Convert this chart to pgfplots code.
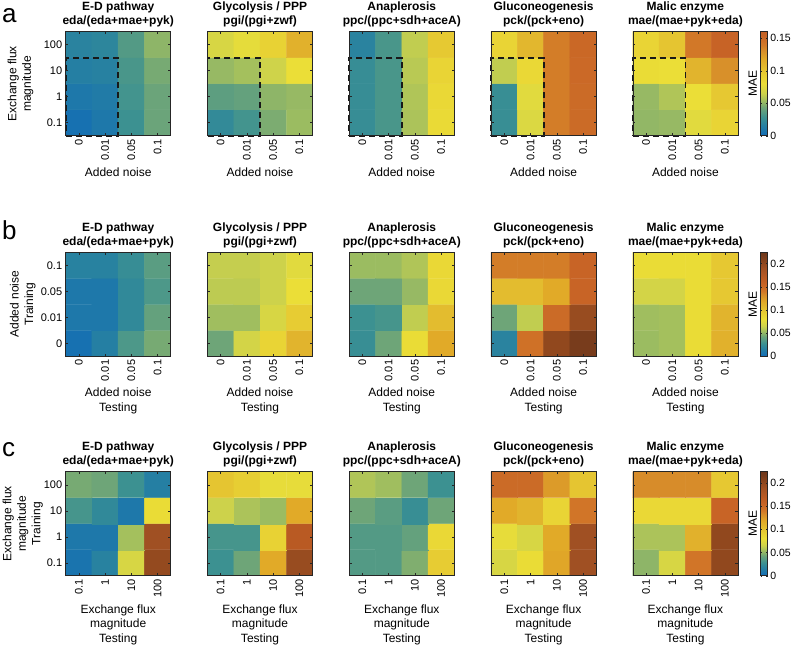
\documentclass[border=0pt]{standalone}
\usepackage{pgfplots}
\pgfplotsset{compat=1.18}
\usepackage{fontspec}
\setmainfont{Liberation Sans}
\pgfplotsset{
 colormap={mapA}{rgb255(0pt)=(18,108,182) rgb255(10pt)=(30,120,170) rgb255(17pt)=(40,130,160) rgb255(28pt)=(60,145,145) rgb255(43pt)=(110,165,120) rgb255(54pt)=(160,190,95) rgb255(65pt)=(205,210,75) rgb255(80pt)=(235,222,55) rgb255(98pt)=(230,200,50) rgb255(110pt)=(225,180,45) rgb255(118pt)=(225,170,40) rgb255(132pt)=(215,140,42) rgb255(140pt)=(210,120,40) rgb255(155pt)=(200,100,38) rgb255(160pt)=(195,96,37)},
 colormap={mapB}{rgb255(0pt)=(18,108,182) rgb255(10pt)=(30,120,170) rgb255(17pt)=(40,130,160) rgb255(28pt)=(60,145,145) rgb255(43pt)=(110,165,120) rgb255(54pt)=(160,190,95) rgb255(65pt)=(205,210,75) rgb255(80pt)=(235,222,55) rgb255(98pt)=(230,200,50) rgb255(110pt)=(225,180,45) rgb255(118pt)=(225,170,40) rgb255(132pt)=(215,140,42) rgb255(140pt)=(210,120,40) rgb255(155pt)=(200,100,38) rgb255(170pt)=(185,90,35) rgb255(190pt)=(160,80,35) rgb255(200pt)=(145,72,30) rgb255(215pt)=(120,60,28) rgb255(224pt)=(108,54,26)},
}
\pgfplotsset{
 hm/.style={scale only axis, width=105pt, height=104pt, anchor=north west,
   xmin=-0.5, xmax=3.5, ymin=-0.5, ymax=3.5, xtick={0,1,2,3}, ytick={0,1,2,3},
   tick align=inside, major tick length=2.5pt, tick style={black!85, line width=0.4pt},
   axis line style={black!85, line width=0.6pt},
   axis on top, clip=false,
   xticklabel style={rotate=90, anchor=east, font=\fontsize{11}{13}\selectfont},
   yticklabel style={font=\fontsize{11}{13}\selectfont},
   title style={font=\bfseries\fontsize{12}{14}\selectfont, align=center, yshift=-5pt},
   xlabel style={font=\fontsize{12}{14.5}\selectfont, align=center},
   ylabel style={font=\fontsize{12}{14.5}\selectfont, align=center},
 },
 rowa/.style={hm, colormap name=mapA, point meta min=0, point meta max=0.16,
   xticklabels={0,0.01,0.05,0.1}, yticklabels={0.1,1,10,100}, xlabel={Added noise}},
 rowb/.style={hm, colormap name=mapB, point meta min=0, point meta max=0.224,
   xticklabels={0,0.01,0.05,0.1}, yticklabels={0,0.01,0.05,0.1}, xlabel={Added noise\\Testing}},
 rowc/.style={hm, colormap name=mapB, point meta min=0, point meta max=0.224,
   xticklabels={0.1,1,10,100}, yticklabels={0.1,1,10,100}, xlabel={Exchange flux\\magnitude\\Testing}},
 noy/.style={yticklabels={}},
 ylab/.style={ylabel style={at={(axis description cs:#1,0.5)}, anchor=center}},
 cbbase/.style={colorbar, colorbar style={at={(parent axis.north east)}, anchor=north west, xshift=14.3pt,
   scale only axis, width=7pt, height=104pt, major tick length=1.5pt,
   axis line style={black!85, line width=0.5pt}, tick style={black!85},
   yticklabel style={font=\fontsize{10.5}{12}\selectfont, xshift=-1pt},
   ylabel=MAE, ylabel style={font=\fontsize{12}{14}\selectfont, at={(axis description cs:-1.15,0.5)}, anchor=center}, #1}},
 hmplot/.style={matrix plot*, mesh/cols=4, point meta=explicit},
 dashbox/.style={black!90, line width=1.8pt, dash pattern=on 6pt off 4pt, forget plot},
}
\begin{document}
\begin{tikzpicture}
\useasboundingbox (0,0) rectangle (795pt,646pt);
\node[anchor=base west, inner sep=0pt, font=\fontsize{26}{26}\selectfont] at (2pt,623pt) {a};
\node[anchor=base west, inner sep=0pt, font=\fontsize{26}{26}\selectfont] at (2pt,406pt) {b};
\node[anchor=base west, inner sep=0pt, font=\fontsize{26}{26}\selectfont] at (2pt,190pt) {c};
% ---------------- Row a ----------------
\begin{axis}[rowa, at={(65.7pt,614.3pt)}, title={E-D pathway\\eda/(eda+mae+pyk)}, ylabel={Exchange flux\\magnitude}, ylab=-0.43]
\addplot[hmplot] table[meta=c, row sep=\\]{x y c\\
0 0 0.004\\ 1 0 0.010\\ 2 0 0.028\\ 3 0 0.042\\
0 1 0.010\\ 1 1 0.012\\ 2 1 0.030\\ 3 1 0.042\\
0 2 0.015\\ 1 2 0.016\\ 2 2 0.032\\ 3 2 0.045\\
0 3 0.018\\ 1 3 0.020\\ 2 3 0.035\\ 3 3 0.050\\};
\addplot[dashbox] coordinates {(-0.5,-0.5) (1.5,-0.5) (1.5,2.5) (-0.5,2.5) (-0.5,-0.5)};
\end{axis}
\begin{axis}[rowa, noy, at={(207.5pt,614.3pt)}, title={Glycolysis / PPP\\pgi/(pgi+zwf)}]
\addplot[hmplot] table[meta=c, row sep=\\]{x y c\\
0 0 0.023\\ 1 0 0.030\\ 2 0 0.046\\ 3 0 0.053\\
0 1 0.038\\ 1 1 0.040\\ 2 1 0.050\\ 3 1 0.052\\
0 2 0.052\\ 1 2 0.055\\ 2 2 0.066\\ 3 2 0.080\\
0 3 0.070\\ 1 3 0.077\\ 2 3 0.090\\ 3 3 0.112\\};
\addplot[dashbox] coordinates {(-0.5,-0.5) (1.5,-0.5) (1.5,2.5) (-0.5,2.5) (-0.5,-0.5)};
\end{axis}
\begin{axis}[rowa, noy, at={(349.3pt,614.3pt)}, title={Anaplerosis\\ppc/(ppc+sdh+aceA)}]
\addplot[hmplot] table[meta=c, row sep=\\]{x y c\\
0 0 0.025\\ 1 0 0.032\\ 2 0 0.057\\ 3 0 0.083\\
0 1 0.025\\ 1 1 0.032\\ 2 1 0.058\\ 3 1 0.085\\
0 2 0.025\\ 1 2 0.032\\ 2 2 0.060\\ 3 2 0.088\\
0 3 0.018\\ 1 3 0.032\\ 2 3 0.062\\ 3 3 0.097\\};
\addplot[dashbox] coordinates {(-0.5,-0.5) (1.5,-0.5) (1.5,2.5) (-0.5,2.5) (-0.5,-0.5)};
\end{axis}
\begin{axis}[rowa, noy, at={(491.1pt,614.3pt)}, title={Gluconeogenesis\\pck/(pck+eno)}]
\addplot[hmplot] table[meta=c, row sep=\\]{x y c\\
0 0 0.026\\ 1 0 0.072\\ 2 0 0.138\\ 3 0 0.150\\
0 1 0.026\\ 1 1 0.075\\ 2 1 0.138\\ 3 1 0.150\\
0 2 0.062\\ 1 2 0.085\\ 2 2 0.138\\ 3 2 0.151\\
0 3 0.088\\ 1 3 0.108\\ 2 3 0.138\\ 3 3 0.152\\};
\addplot[dashbox] coordinates {(-0.5,-0.5) (1.5,-0.5) (1.5,2.5) (-0.5,2.5) (-0.5,-0.5)};
\end{axis}
\begin{axis}[rowa, noy, at={(632.9pt,614.3pt)}, title={Malic enzyme\\mae/(mae+pyk+eda)},
  cbbase={ytick={0,0.05,0.1,0.15}, yticklabels={0,0.05,0.1,0.15}}]
\addplot[hmplot] table[meta=c, row sep=\\]{x y c\\
0 0 0.051\\ 1 0 0.052\\ 2 0 0.075\\ 3 0 0.088\\
0 1 0.052\\ 1 1 0.058\\ 2 1 0.080\\ 3 1 0.098\\
0 2 0.082\\ 1 2 0.080\\ 2 2 0.110\\ 3 2 0.130\\
0 3 0.088\\ 1 3 0.100\\ 2 3 0.140\\ 3 3 0.156\\};
\addplot[dashbox] coordinates {(-0.5,-0.5) (1.5,-0.5) (1.5,2.5) (-0.5,2.5) (-0.5,-0.5)};
\end{axis}
% ---------------- Row b ----------------
\begin{axis}[rowb, at={(65.7pt,393.7pt)}, title={E-D pathway\\eda/(eda+mae+pyk)}, ylabel={Added noise\\Training}, ylab=-0.41]
\addplot[hmplot] table[meta=c, row sep=\\]{x y c\\
0 0 0.004\\ 1 0 0.015\\ 2 0 0.033\\ 3 0 0.045\\
0 1 0.010\\ 1 1 0.010\\ 2 1 0.022\\ 3 1 0.040\\
0 2 0.010\\ 1 2 0.010\\ 2 2 0.022\\ 3 2 0.033\\
0 3 0.017\\ 1 3 0.017\\ 2 3 0.025\\ 3 3 0.037\\};
\end{axis}
\begin{axis}[rowb, noy, at={(207.5pt,393.7pt)}, title={Glycolysis / PPP\\pgi/(pgi+zwf)}]
\addplot[hmplot] table[meta=c, row sep=\\]{x y c\\
0 0 0.043\\ 1 0 0.068\\ 2 0 0.088\\ 3 0 0.110\\
0 1 0.054\\ 1 1 0.054\\ 2 1 0.070\\ 3 1 0.095\\
0 2 0.061\\ 1 2 0.061\\ 2 2 0.065\\ 3 2 0.080\\
0 3 0.063\\ 1 3 0.063\\ 2 3 0.065\\ 3 3 0.075\\};
\end{axis}
\begin{axis}[rowb, noy, at={(349.3pt,393.7pt)}, title={Anaplerosis\\ppc/(ppc+sdh+aceA)}]
\addplot[hmplot] table[meta=c, row sep=\\]{x y c\\
0 0 0.026\\ 1 0 0.043\\ 2 0 0.082\\ 3 0 0.118\\
0 1 0.028\\ 1 1 0.031\\ 2 1 0.062\\ 3 1 0.105\\
0 2 0.043\\ 1 2 0.043\\ 2 2 0.052\\ 3 2 0.085\\
0 3 0.053\\ 1 3 0.053\\ 2 3 0.058\\ 3 3 0.085\\};
\end{axis}
\begin{axis}[rowb, noy, at={(491.1pt,393.7pt)}, title={Gluconeogenesis\\pck/(pck+eno)}]
\addplot[hmplot] table[meta=c, row sep=\\]{x y c\\
0 0 0.018\\ 1 0 0.145\\ 2 0 0.200\\ 3 0 0.215\\
0 1 0.043\\ 1 1 0.062\\ 2 1 0.150\\ 3 1 0.195\\
0 2 0.105\\ 1 2 0.105\\ 2 2 0.118\\ 3 2 0.155\\
0 3 0.138\\ 1 3 0.138\\ 2 3 0.138\\ 3 3 0.155\\};
\end{axis}
\begin{axis}[rowb, noy, at={(632.9pt,393.7pt)}, title={Malic enzyme\\mae/(mae+pyk+eda)},
  cbbase={ytick={0,0.05,0.1,0.15,0.2}, yticklabels={0,0.05,0.1,0.15,0.2}}]
\addplot[hmplot] table[meta=c, row sep=\\]{x y c\\
0 0 0.053\\ 1 0 0.055\\ 2 0 0.082\\ 3 0 0.112\\
0 1 0.054\\ 1 1 0.055\\ 2 1 0.082\\ 3 1 0.110\\
0 2 0.068\\ 1 2 0.068\\ 2 2 0.082\\ 3 2 0.098\\
0 3 0.082\\ 1 3 0.082\\ 2 3 0.082\\ 3 3 0.098\\};
\end{axis}
% ---------------- Row c ----------------
\begin{axis}[rowc, at={(65.7pt,174.3pt)}, title={E-D pathway\\eda/(eda+mae+pyk)}, ylabel={Exchange flux\\magnitude\\Training}, ylab=-0.41]
\addplot[hmplot] table[meta=c, row sep=\\]{x y c\\
0 0 0.007\\ 1 0 0.017\\ 2 0 0.070\\ 3 0 0.198\\
0 1 0.010\\ 1 1 0.010\\ 2 1 0.055\\ 3 1 0.190\\
0 2 0.031\\ 1 2 0.022\\ 2 2 0.010\\ 3 2 0.082\\
0 3 0.045\\ 1 3 0.043\\ 2 3 0.028\\ 3 3 0.015\\};
\end{axis}
\begin{axis}[rowc, noy, at={(207.5pt,174.3pt)}, title={Glycolysis / PPP\\pgi/(pgi+zwf)}]
\addplot[hmplot] table[meta=c, row sep=\\]{x y c\\
0 0 0.028\\ 1 0 0.043\\ 2 0 0.118\\ 3 0 0.195\\
0 1 0.031\\ 1 1 0.031\\ 2 1 0.090\\ 3 1 0.170\\
0 2 0.065\\ 1 2 0.057\\ 2 2 0.053\\ 3 2 0.118\\
0 3 0.100\\ 1 3 0.093\\ 2 3 0.078\\ 3 3 0.078\\};
\end{axis}
\begin{axis}[rowc, noy, at={(349.3pt,174.3pt)}, title={Anaplerosis\\ppc/(ppc+sdh+aceA)}]
\addplot[hmplot] table[meta=c, row sep=\\]{x y c\\
0 0 0.035\\ 1 0 0.035\\ 2 0 0.047\\ 3 0 0.095\\
0 1 0.035\\ 1 1 0.035\\ 2 1 0.040\\ 3 1 0.085\\
0 2 0.043\\ 1 2 0.037\\ 2 2 0.026\\ 3 2 0.043\\
0 3 0.058\\ 1 3 0.054\\ 2 3 0.043\\ 3 3 0.028\\};
\end{axis}
\begin{axis}[rowc, noy, at={(491.1pt,174.3pt)}, title={Gluconeogenesis\\pck/(pck+eno)}]
\addplot[hmplot] table[meta=c, row sep=\\]{x y c\\
0 0 0.070\\ 1 0 0.082\\ 2 0 0.120\\ 3 0 0.190\\
0 1 0.078\\ 1 1 0.070\\ 2 1 0.118\\ 3 1 0.190\\
0 2 0.118\\ 1 2 0.110\\ 2 2 0.088\\ 3 2 0.142\\
0 3 0.150\\ 1 3 0.150\\ 2 3 0.125\\ 3 3 0.100\\};
\end{axis}
\begin{axis}[rowc, noy, at={(632.9pt,174.3pt)}, title={Malic enzyme\\mae/(mae+pyk+eda)},
  cbbase={ytick={0,0.05,0.1,0.15,0.2}, yticklabels={0,0.05,0.1,0.15,0.2}}]
\addplot[hmplot] table[meta=c, row sep=\\]{x y c\\
0 0 0.050\\ 1 0 0.070\\ 2 0 0.142\\ 3 0 0.200\\
0 1 0.057\\ 1 1 0.057\\ 2 1 0.112\\ 3 1 0.200\\
0 2 0.085\\ 1 2 0.085\\ 2 2 0.085\\ 3 2 0.155\\
0 3 0.132\\ 1 3 0.132\\ 2 3 0.132\\ 3 3 0.098\\};
\end{axis}
\end{tikzpicture}
\end{document}
